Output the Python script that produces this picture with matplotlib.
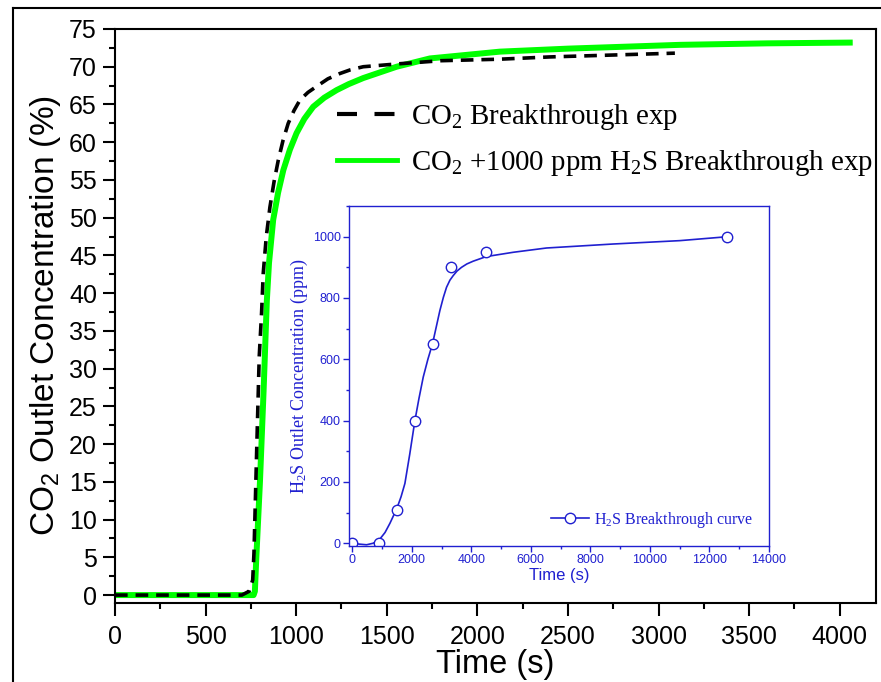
import matplotlib
matplotlib.use('Agg')
import matplotlib.pyplot as plt
from matplotlib.lines import Line2D
from matplotlib.ticker import MultipleLocator

plt.rcParams['font.family'] = ['Liberation Sans', 'DejaVu Sans']
plt.rcParams['mathtext.default'] = 'regular'

# main chart: CO2 breakthrough (black dashed)
co2_t = [0, 700, 740, 760, 767, 782, 796, 809, 818, 835, 855, 878, 901, 928, 956, 988, 1021,
         1065, 1113, 1175, 1241, 1300, 1370, 1572, 1800, 2124, 2400, 2676, 3090]
co2_c = [0, 0, 0.5, 2, 5.6, 19.2, 31.6, 37.4, 42.6, 47.5, 51.4, 54.8, 57.6, 60.3, 62.5, 64.2, 65.6,
         66.6, 67.4, 68.4, 69.1, 69.6, 70.0, 70.4, 70.8, 71.0, 71.3, 71.5, 71.8]

# main chart: CO2 + 1000 ppm H2S breakthrough (green)
mix_t = [0, 765, 772, 780, 800, 820, 838, 850, 873, 900, 929, 965, 1002, 1045, 1094, 1155, 1223,
         1290, 1370, 1554, 1738, 2124, 2500, 3117, 3600, 4055]
mix_c = [0, 0, 0.5, 5, 15, 27, 39, 44, 49.7, 53.3, 56.3, 59.0, 61.2, 63.1, 64.7, 65.9, 66.9,
         67.7, 68.5, 70.0, 71.1, 72.0, 72.4, 72.9, 73.1, 73.2]

# inset: H2S measured points
h2s_t = [0, 900, 1500, 2100, 2700, 3300, 4500, 12600]
h2s_c = [0, 0, 110, 400, 650, 900, 950, 1000]

# inset: fitted curve
fit_t = [0, 250, 481, 700, 906, 1100, 1265, 1500, 1640, 1768, 1930, 2104, 2240, 2384, 2540, 2697,
         2820, 2943, 3060, 3167, 3280, 3391, 3520, 3671, 3850, 4062, 4499, 5405, 6524, 8762,
         11000, 12624]
fit_c = [0, -3, -5, 0, 11, 35, 65, 114, 152, 195, 290, 400, 472, 542, 600, 651,
         705, 759, 802, 835, 858, 873, 888, 900, 911, 920, 935, 949, 963, 976,
         987, 1000]

blue = '#2020d0'

fig = plt.figure(figsize=(8.81, 6.82), dpi=100)

# outer frame (left and top edges visible)
fig.add_artist(Line2D([13/881, 13/881], [0, 1 - 8/682], transform=fig.transFigure, color='black', lw=1.5))
fig.add_artist(Line2D([13/881, 1], [1 - 8/682, 1 - 8/682], transform=fig.transFigure, color='black', lw=1.5))

ax = fig.add_axes([115/881, 79/682, 761/881, 574/682])
ax.plot(co2_t, co2_c, color='black', lw=2.6, ls=(0, (3.5, 2.2)), zorder=3)
ax.plot(mix_t, mix_c, color='#00ff00', lw=4.3, zorder=2)
ax.set_xlim(0, 4200)
ax.set_ylim(-1.05, 75)
ax.xaxis.set_major_locator(MultipleLocator(500))
ax.xaxis.set_minor_locator(MultipleLocator(250))
ax.yaxis.set_major_locator(MultipleLocator(5))
ax.yaxis.set_minor_locator(MultipleLocator(2.5))
ax.tick_params(which='major', direction='out', length=9, width=1.5, labelsize=18, pad=4)
ax.tick_params(which='minor', direction='out', length=4.5, width=1.5)
ax.tick_params(axis='x', which='major', pad=7)
for s in ax.spines.values():
    s.set_linewidth(1.5)
ax.set_xlabel('Time (s)', fontsize=23.5, labelpad=0)
ax.set_ylabel('CO$_2$ Outlet Concentration (%)', fontsize=24, labelpad=4)

h_co2 = Line2D([], [], color='black', lw=3, ls=(0, (4.8, 4.2)))
h_mix = Line2D([], [], color='#00ff00', lw=3.5)
ax.legend([h_co2, h_mix], ['CO$_2$ Breakthrough exp', 'CO$_2$ +1000 ppm H$_2$S Breakthrough exp'],
          loc='upper left', bbox_to_anchor=(323/881, 1 - 88/682), bbox_transform=fig.transFigure,
          frameon=False, prop={'family': 'Liberation Serif', 'size': 20.8},
          handlelength=2.05, handletextpad=0.5, labelspacing=0.55, borderpad=0)

# inset
ins = fig.add_axes([349/881, 136/682, 420/881, 340/682])
ins.plot(fit_t, fit_c, color=blue, lw=1.2)
ins.plot(h2s_t, h2s_c, ls='none', marker='o', ms=7.5, mfc='white', mec=blue, mew=1)
ins.set_xlim(-110, 14000)
ins.set_ylim(-9, 1100)
ins.xaxis.set_major_locator(MultipleLocator(2000))
ins.xaxis.set_minor_locator(MultipleLocator(1000))
ins.yaxis.set_major_locator(MultipleLocator(200))
ins.yaxis.set_minor_locator(MultipleLocator(100))
ins.tick_params(which='major', direction='out', length=4, width=1, colors=blue, labelsize=9, pad=2)
ins.tick_params(which='minor', direction='out', length=2.5, width=1, colors=blue)
for s in ins.spines.values():
    s.set_color(blue)
    s.set_linewidth(1)
ins.set_xlabel('Time (s)', fontsize=12, color=blue, labelpad=1)
ins.set_ylabel('H$_2$S Outlet Concentration (ppm)', fontsize=13, color=blue,
               family='Liberation Serif', labelpad=2)
proxy = Line2D([], [], color=blue, lw=1.2, marker='o', ms=7.5, mfc='white', mec=blue)
ins.legend([proxy], ['H$_2$S Breakthrough curve'], loc='center left',
           bbox_to_anchor=(543/881, 1 - 520/682), bbox_transform=fig.transFigure, frameon=False,
           prop={'family': 'Liberation Serif', 'size': 11.5}, labelcolor=blue,
           handlelength=2.4, handletextpad=0.3, borderpad=0)

fig.savefig('out.png', dpi=100)
